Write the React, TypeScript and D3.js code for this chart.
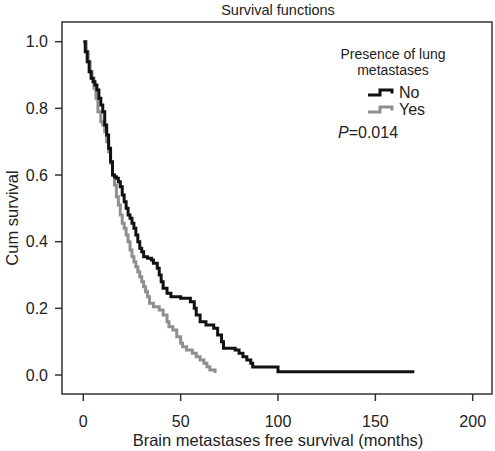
import React from "react";
import * as d3 from "d3";

const noTimes = [0, 1, 2, 3, 4, 5, 6, 7, 8, 9, 10, 11, 12, 13, 14, 15, 16, 17, 18, 19, 20, 21, 22, 23, 24, 25, 26, 27, 28, 29, 30, 31, 33, 35, 36, 38, 39, 40, 41, 43, 45, 50, 55, 57, 58, 60, 63, 67, 69, 71, 72, 78, 80, 82, 84, 86, 87, 100, 170];
const noSurv = [1.0, 0.97, 0.94, 0.91, 0.89, 0.88, 0.87, 0.855, 0.83, 0.81, 0.79, 0.75, 0.72, 0.68, 0.64, 0.6, 0.595, 0.59, 0.58, 0.565, 0.54, 0.52, 0.5, 0.48, 0.47, 0.455, 0.44, 0.42, 0.4, 0.38, 0.37, 0.355, 0.35, 0.345, 0.335, 0.32, 0.3, 0.28, 0.26, 0.245, 0.235, 0.23, 0.22, 0.2, 0.18, 0.16, 0.15, 0.14, 0.12, 0.1, 0.08, 0.075, 0.065, 0.055, 0.045, 0.035, 0.024, 0.01, 0.01];

const yesTimes = [0.5, 1.5, 2.5, 3.5, 4.5, 5.5, 6.5, 7.5, 9, 10, 11, 12, 13, 14, 15, 16, 17, 18, 19, 20, 21, 22, 23, 24, 25, 26, 27, 28, 29, 30, 31, 32, 33, 34, 36, 39, 41, 43, 44, 46, 48, 50, 51, 53, 56, 58, 60, 62, 63.5, 65, 67.7];
const yesSurv = [1.0, 0.97, 0.94, 0.91, 0.89, 0.86, 0.83, 0.79, 0.76, 0.75, 0.73, 0.7, 0.67, 0.635, 0.6, 0.57, 0.535, 0.51, 0.48, 0.455, 0.44, 0.42, 0.4, 0.375, 0.355, 0.34, 0.325, 0.31, 0.295, 0.28, 0.265, 0.25, 0.235, 0.215, 0.205, 0.195, 0.18, 0.16, 0.145, 0.135, 0.115, 0.095, 0.085, 0.075, 0.065, 0.055, 0.045, 0.035, 0.025, 0.015, 0.006];

const xTicks = [0, 50, 100, 150, 200];
const yTicks = [0, 0.2, 0.4, 0.6, 0.8, 1.0];

const title = "Survival functions";
const xTitle = "Brain metastases free survival (months)";
const yTitle = "Cum survival";
const legendTitle = ["Presence of lung", "metastases"];
const seriesNames = ["No", "Yes"];
const pValue = "=0.014";

const FONT = "Arial, 'Liberation Sans', Helvetica, sans-serif";

export default function App() {
  const W = 495, H = 451;
  const box = { left: 62, right: 492, top: 22, bottom: 394 };
  const x = d3.scaleLinear().domain([0, 200]).range([83.3, 472.7]);
  const y = d3.scaleLinear().domain([0, 1]).range([375, 41.7]);

  const line = d3
    .line<[number, number]>()
    .x((d) => x(d[0]))
    .y((d) => y(d[1]))
    .curve(d3.curveStepAfter);

  const noPts = noTimes.map((t, i) => [t, noSurv[i]] as [number, number]);
  const yesPts = yesTimes.map((t, i) => [t, yesSurv[i]] as [number, number]);

  const colors = ["#111111", "#8f8f8f"];

  return (
    <svg
      width={W}
      height={H}
      style={{ position: "absolute", left: 0, top: 0, background: "#fff" }}
      fontFamily={FONT}
    >
      <rect x={0} y={0} width={W} height={H} fill="#fff" />
      <text x={278} y={15} textAnchor="middle" fontSize={14.5} fill="#222">
        {title}
      </text>
      <rect
        x={box.left}
        y={box.top}
        width={box.right - box.left}
        height={box.bottom - box.top}
        fill="none"
        stroke="#333"
        strokeWidth={1.5}
      />
      {yTicks.map((t) => (
        <g key={"y" + t}>
          <line x1={55} x2={box.left} y1={y(t)} y2={y(t)} stroke="#333" strokeWidth={1.5} />
          <text x={48} y={y(t) + 5.5} textAnchor="end" fontSize={16} fill="#222">
            {t.toFixed(1)}
          </text>
        </g>
      ))}
      {xTicks.map((t) => (
        <g key={"x" + t}>
          <line x1={x(t)} x2={x(t)} y1={box.bottom} y2={401} stroke="#333" strokeWidth={1.5} />
          <text x={x(t)} y={427} textAnchor="middle" fontSize={16} fill="#222">
            {t}
          </text>
        </g>
      ))}
      <text x={278} y={446} textAnchor="middle" fontSize={16.5} fill="#222">
        {xTitle}
      </text>
      <text
        transform={`translate(18,218) rotate(-90)`}
        textAnchor="middle"
        fontSize={16.5}
        fill="#222"
      >
        {yTitle}
      </text>

      <path d={line(yesPts) || ""} fill="none" stroke={colors[1]} strokeWidth={3} />
      <path d={line(noPts) || ""} fill="none" stroke={colors[0]} strokeWidth={3} />

      <text x={393} y={59} textAnchor="middle" fontSize={14} fill="#222">
        {legendTitle[0]}
      </text>
      <text x={393} y={75} textAnchor="middle" fontSize={14} fill="#222">
        {legendTitle[1]}
      </text>
      {seriesNames.map((name, i) => {
        const cy = 92.5 + i * 17;
        return (
          <g key={name}>
            <path
              d={`M368,${cy + 2.5} H380 V${cy - 2.5} H392 V${cy + 1}`}
              fill="none"
              stroke={colors[i]}
              strokeWidth={3}
            />
            <text x={399} y={cy + 5} fontSize={16} fill="#222">
              {name}
            </text>
          </g>
        );
      })}
      <text x={338} y={138} fontSize={16} fill="#222">
        <tspan fontStyle="italic">P</tspan>
        <tspan>{pValue}</tspan>
      </text>
    </svg>
  );
}
